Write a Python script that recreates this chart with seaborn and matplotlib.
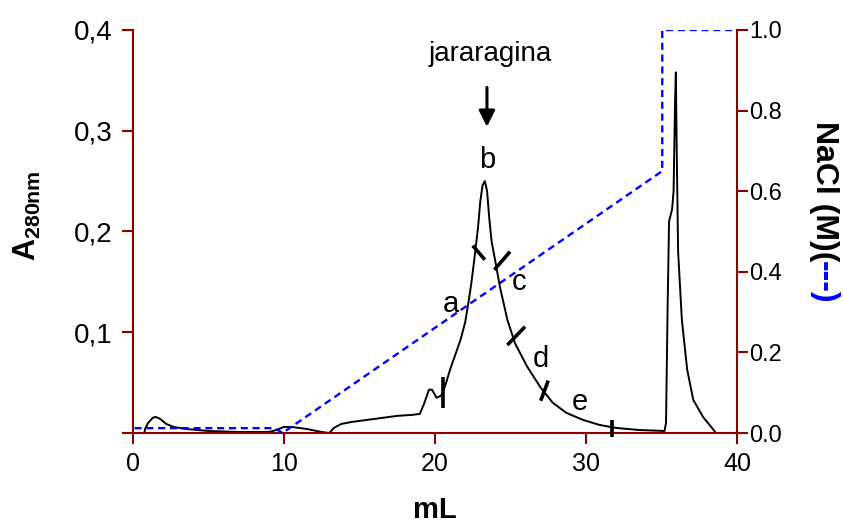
import matplotlib
matplotlib.use("Agg")
import matplotlib.pyplot as plt
import seaborn as sns

# Absorbance trace (A280) against elution volume
volume_ml = [0.75, 0.8, 1.0, 1.3, 1.5, 1.8, 2.2, 2.7, 3.5, 5.0, 7.0, 9.0, 9.5, 10.0,
             10.5, 11.5, 12.5, 13.0, 13.3, 13.8, 14.5, 15.5, 16.5, 17.5, 18.5, 19.0,
             19.3, 19.6, 19.8, 20.1, 20.4, 20.7, 21.0, 21.4, 21.7, 22.0, 22.2, 22.4,
             22.6, 22.85, 23.0, 23.15, 23.3, 23.45, 23.6, 23.75, 24.0, 24.3, 24.8,
             25.3, 26.1, 27.0, 27.8, 28.7, 29.8, 30.9, 32.0, 33.5, 35.2, 35.3, 35.4,
             35.5, 35.7, 35.8, 35.9, 35.95, 36.0, 36.1, 36.35, 36.7, 37.1, 37.75,
             38.4, 38.6]
a280 = [0.000, 0.004, 0.010, 0.015, 0.016, 0.014, 0.009, 0.006, 0.004, 0.002, 0.001,
        0.001, 0.003, 0.006, 0.006, 0.004, 0.001, 0.000, 0.005, 0.009, 0.011, 0.013,
        0.015, 0.017, 0.018, 0.019, 0.030, 0.043, 0.043, 0.035, 0.037, 0.048, 0.063,
        0.080, 0.093, 0.110, 0.128, 0.148, 0.172, 0.204, 0.230, 0.246, 0.250, 0.240,
        0.212, 0.190, 0.170, 0.145, 0.112, 0.089, 0.066, 0.045, 0.030, 0.020, 0.013,
        0.008, 0.005, 0.003, 0.002, 0.010, 0.120, 0.210, 0.222, 0.240, 0.330, 0.358,
        0.290, 0.180, 0.112, 0.063, 0.033, 0.016, 0.004, 0.000]

# NaCl gradient (right axis)
nacl_volume = [0.1, 9.4, 9.9, 35.05, 35.05, 40.0]
nacl_molar = [0.012, 0.012, 0.0, 0.65, 1.0, 1.0]

# Fraction cut marks: start and end points
cut_x0 = [20.53, 22.5, 23.93, 24.79, 27.0, 31.7]
cut_y0 = [0.0248, 0.186, 0.162, 0.0873, 0.032, -0.004]
cut_x1 = [20.53, 23.3, 24.97, 25.96, 27.5, 31.7]
cut_y1 = [0.0556, 0.172, 0.180, 0.1055, 0.052, 0.013]

# Fraction names
fraction_labels = ["a", "b", "c", "d", "e"]
fraction_x = [21.06, 23.44, 25.6, 27.0, 29.6]
fraction_y = [0.120, 0.263, 0.142, 0.0655, 0.0228]

left_ticks = [0.0, 0.1, 0.2, 0.3, 0.4]
left_ticklabels = ["", "0,1", "0,2", "0,3", "0,4"]
right_ticks = [0.0, 0.2, 0.4, 0.6, 0.8, 1.0]
right_ticklabels = ["0.0", "0.2", "0.4", "0.6", "0.8", "1.0"]
x_ticks = [0, 10, 20, 30, 40]

sns.set_style("ticks")
plt.rcParams["font.family"] = ["Liberation Sans", "DejaVu Sans"]
plt.rcParams["text.color"] = "black"
plt.rcParams["mathtext.fontset"] = "custom"
plt.rcParams["mathtext.rm"] = "Liberation Sans"
plt.rcParams["mathtext.bf"] = "Liberation Sans:bold"

axis_red = "#8B0000"

fig = plt.figure(figsize=(8.43, 5.23), dpi=100)
ax = fig.add_axes([133 / 843, 1 - 433 / 523, (737 - 133) / 843, (433 - 30) / 523])
ax2 = ax.twinx()

sns.lineplot(x=volume_ml, y=a280, ax=ax, sort=False, estimator=None,
             color="black", linewidth=1.4)
sns.lineplot(x=nacl_volume, y=nacl_molar, ax=ax2, sort=False, estimator=None,
             color="#0000FF", linewidth=1.7, linestyle=(0, (3, 2)))

ax.set_xlim(0, 40)
ax.set_ylim(0, 0.4)
ax2.set_ylim(0, 1.0)

ax.set_xticks(x_ticks)
ax.set_xticklabels([str(t) for t in x_ticks], fontsize=18)
ax.set_yticks(left_ticks)
ax.set_yticklabels(left_ticklabels, fontsize=20)
ax2.set_yticks(right_ticks)
ax2.set_yticklabels(right_ticklabels, fontsize=17)

for a in (ax, ax2):
    a.spines["top"].set_visible(False)
    for s in a.spines.values():
        s.set_color(axis_red)
        s.set_linewidth(1.5)
ax.spines["right"].set_visible(False)
ax2.spines["left"].set_visible(False)
ax2.spines["bottom"].set_visible(False)

ax.tick_params(axis="x", direction="out", length=8, width=1.5, color=axis_red,
               labelcolor="black", pad=6)
ax.tick_params(axis="y", direction="out", length=8, width=1.5, color=axis_red,
               labelcolor="black", pad=7)
ax2.tick_params(axis="y", direction="out", length=8, width=1.5, color=axis_red,
                labelcolor="black", pad=1)

ax.set_xlabel("")
ax.set_ylabel("")
ax2.set_ylabel("")

# Fraction boundaries
for x0, y0, x1, y1 in zip(cut_x0, cut_y0, cut_x1, cut_y1):
    ax.plot([x0, x1], [y0, y1], color="black", linewidth=2.6,
            solid_capstyle="butt", clip_on=False, zorder=5)

for lab, fx, fy in zip(fraction_labels, fraction_x, fraction_y):
    ax.text(fx, fy, lab, fontsize=21, ha="center", va="baseline", color="black")

ax.text(23.64, 0.369, "jararagina", fontsize=20, ha="center", va="baseline",
        color="black")
ax.annotate("", xy=(23.44, 0.304), xytext=(23.44, 0.343),
            arrowprops=dict(arrowstyle="-|>", color="black", lw=2.2,
                            mutation_scale=24, shrinkA=0, shrinkB=0))

# Axis titles
fig.text(435 / 843, 1 - 510 / 523, "mL", fontsize=21, fontweight="bold",
         ha="center", va="center", color="black")
fig.text(27 / 843, 1 - 216 / 523, r"$\mathbf{A_{280nm}}$", fontsize=22,
         rotation=90, ha="center", va="center", color="black")

renderer = fig.canvas.get_renderer()
t1 = fig.text(824 / 843, 1 - 121 / 523, "NaCl (M)(", fontsize=23,
              fontweight="bold", rotation=270, ha="center", va="top", color="black")
ext = t1.get_window_extent(renderer)
fig.text(824 / 843, ext.y0 / fig.bbox.height, "---)", fontsize=23,
         fontweight="bold", color="#0000FF", rotation=270, ha="center", va="top")

fig.savefig("out.png", dpi=100)
